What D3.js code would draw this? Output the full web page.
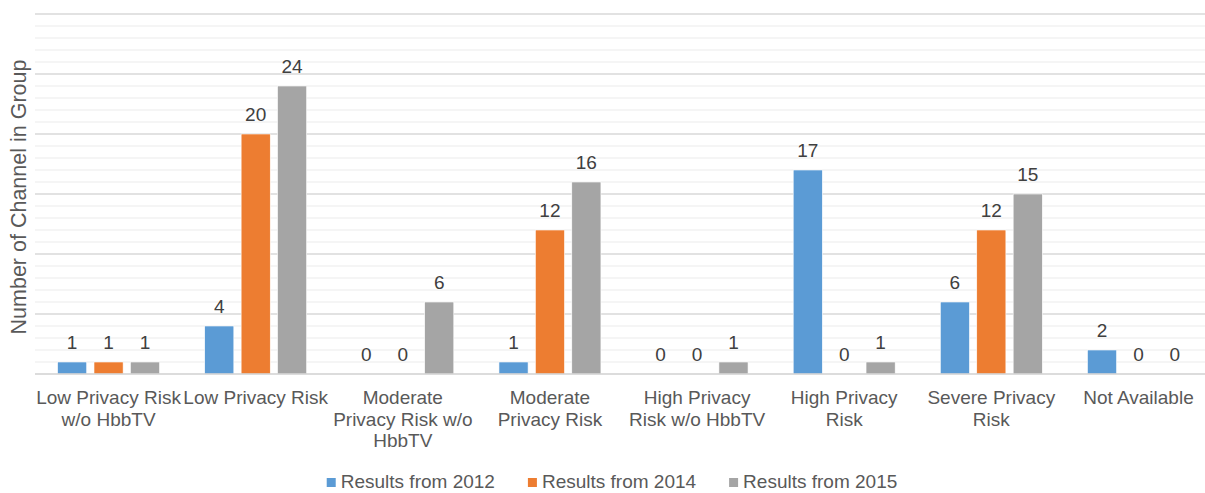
<!DOCTYPE html>
<html>
<head>
<meta charset="utf-8">
<script src="https://cdn.jsdelivr.net/npm/d3@7"></script>
<style>
  html, body { margin: 0; padding: 0; background: #fff; }
  svg { display: block; font-family: "Liberation Sans", Arial, sans-serif; }
</style>
</head>
<body>
<svg id="chart" width="1205" height="493"></svg>
<script>
// Privacy risk groups (multi-line tick labels)
const categories = [
  ["Low Privacy Risk", "w/o HbbTV"],
  ["Low Privacy Risk"],
  ["Moderate", "Privacy Risk w/o", "HbbTV"],
  ["Moderate", "Privacy Risk"],
  ["High Privacy", "Risk w/o HbbTV"],
  ["High Privacy", "Risk"],
  ["Severe Privacy", "Risk"],
  ["Not Available"]
];
const seriesNames = ["Results from 2012", "Results from 2014", "Results from 2015"];
const results2012 = [1, 4, 0, 1, 0, 17, 6, 2];
const results2014 = [1, 20, 0, 12, 0, 0, 12, 0];
const results2015 = [1, 24, 6, 16, 1, 1, 15, 0];
const seriesColors = ["#5B9BD5", "#ED7D31", "#A5A5A5"];
const yTicksMajor = [0, 5, 10, 15, 20, 25, 30];

const series = [results2012, results2014, results2015];
const catKeys = categories.map(c => c.join(" "));

const svg = d3.select("#chart");
const plot = { left: 35, right: 1212, top: 14, bottom: 374 };

const x0 = d3.scaleBand().domain(catKeys).range([plot.left, plot.right]).padding(0);
const x1 = d3.scaleBand().domain(seriesNames).range([0, x0.bandwidth()])
  .paddingInner(0.2).paddingOuter(0.62);
const y = d3.scaleLinear().domain([0, 30]).range([plot.bottom, plot.top]);

// minor gridlines (every unit)
svg.append("g").selectAll("line")
  .data(d3.range(1, 31).filter(v => v % 5 !== 0))
  .join("line")
  .attr("x1", plot.left).attr("x2", 1205)
  .attr("y1", d => y(d)).attr("y2", d => y(d))
  .attr("stroke", "#F2F2F2").attr("stroke-width", 1.3);

// major gridlines
svg.append("g").selectAll("line")
  .data(yTicksMajor.filter(v => v > 0))
  .join("line")
  .attr("x1", plot.left).attr("x2", 1205)
  .attr("y1", d => y(d)).attr("y2", d => y(d))
  .attr("stroke", "#D9D9D9").attr("stroke-width", 1.3);

// bars
const groups = svg.append("g").selectAll("g")
  .data(catKeys)
  .join("g")
  .attr("transform", d => `translate(${x0(d)},0)`);

groups.selectAll("rect")
  .data((d, i) => series.map((s, k) => ({ name: seriesNames[k], value: s[i], k })))
  .join("rect")
  .filter(d => d.value > 0)
  .attr("x", d => x1(d.name))
  .attr("width", x1.bandwidth())
  .attr("y", d => y(d.value))
  .attr("height", d => y(0) - y(d.value))
  .attr("fill", d => seriesColors[d.k])
  .attr("stroke", "#ffffff").attr("stroke-width", 0.6);

// value labels
groups.selectAll("text")
  .data((d, i) => series.map((s, k) => ({ name: seriesNames[k], value: s[i], k })))
  .join("text")
  .attr("x", d => x1(d.name) + x1.bandwidth() / 2)
  .attr("y", d => y(d.value) - 13)
  .attr("text-anchor", "middle")
  .attr("font-size", 19)
  .attr("fill", "#404040")
  .text(d => d.value);

// baseline axis
const xAxis = d3.axisBottom(x0).tickSize(0).tickFormat("");
const axisG = svg.append("g").attr("transform", `translate(0,${plot.bottom})`).call(xAxis);
axisG.select(".domain").attr("stroke", "#D0D0D0").attr("stroke-width", 1.5)
  .attr("d", `M${plot.left},0H1205`);

// category labels
axisG.selectAll(".tick").each(function(d, i) {
  const t = d3.select(this).append("text")
    .attr("text-anchor", "middle")
    .attr("font-size", 19)
    .attr("fill", "#595959");
  categories[i].forEach((line, j) => {
    t.append("tspan").attr("x", 0).attr("y", 30 + j * 21.5).text(line);
  });
});

// y-axis title
svg.append("text")
  .attr("transform", "translate(26,197) rotate(-90)")
  .attr("text-anchor", "middle")
  .attr("font-size", 21.5)
  .attr("fill", "#595959")
  .text("Number of Channel in Group");

// legend
const legend = svg.append("g");
let cx = 0;
seriesNames.forEach((name, k) => {
  const item = legend.append("g").attr("transform", `translate(${cx},0)`);
  item.append("rect").attr("x", 0).attr("y", -10).attr("width", 9).attr("height", 9)
    .attr("fill", seriesColors[k]);
  const t = item.append("text").attr("x", 14).attr("y", 0)
    .attr("font-size", 19).attr("fill", "#595959").text(name);
  cx += 14 + t.node().getComputedTextLength() + 33;
});
const legendWidth = cx - 33;
legend.attr("transform", `translate(${612 - legendWidth / 2},488)`);
</script>
</body>
</html>
